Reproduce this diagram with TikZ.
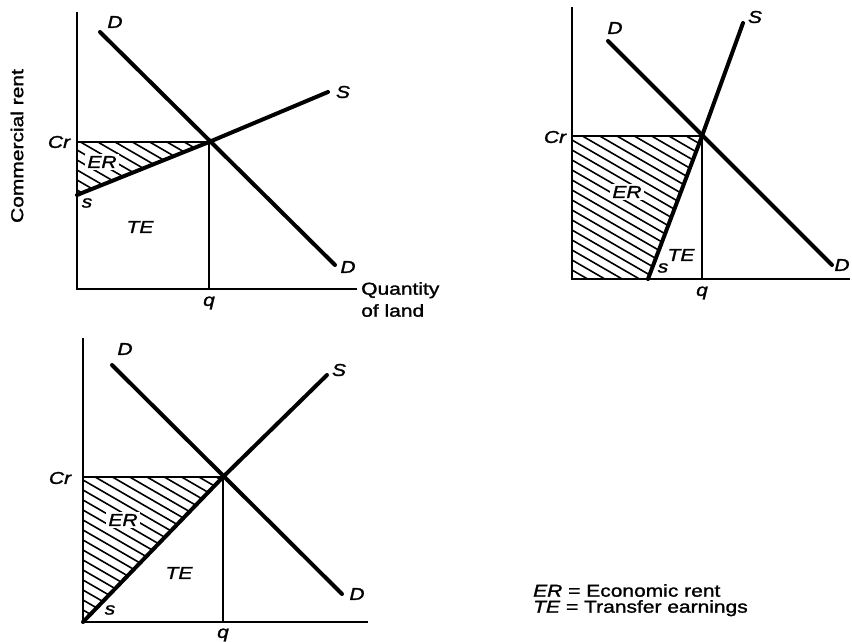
\documentclass[tikz,border=0pt]{standalone}
\usepackage{fontspec}
\setmainfont[FakeStretch=1.22, FakeBold=1.5]{Liberation Sans}
\usepackage{tikz}
\usetikzlibrary{positioning,calc}

\begin{document}
\begin{tikzpicture}[
  x=1pt, y=-1pt,
  font=\fontsize{17.2}{20}\selectfont,
  axis/.style  ={line width=2.4pt},
  curve/.style ={line width=4pt, line cap=round},
  guide/.style ={line width=1.5pt},
  hatch/.style ={line width=1.6pt},
  lbl/.style   ={font=\fontsize{17.2}{20}\selectfont\itshape, inner sep=1pt},
  erlbl/.style ={lbl, fill=white, inner sep=2pt},
  txt/.style   ={inner sep=0pt, align=left}
]
\useasboundingbox (0,0) rectangle (852,642);

% ---- PANEL 1: elastic supply ----
\coordinate (o1) at (77,289);   \coordinate (top1) at (77,12);   \coordinate (xend1) at (357,289);
\coordinate (cr1) at (77,142);  \coordinate (e1) at (209,142);   \coordinate (q1) at (209,289);
\coordinate (s1) at (77,195);   \coordinate (send1) at (328,92);
\coordinate (dtop1) at (100,32); \coordinate (dbot1) at (335,265);

\begin{scope}
  \clip (cr1) -- (e1) -- (s1) -- cycle;
  \foreach \k in {-300,-290,...,700} \draw[hatch] (77,\k) -- ++(500,289);
\end{scope}
\node[erlbl] (er1) at (102,162) {ER};

\draw[guide] (cr1) -- (e1) -- (q1);
\draw[axis] (top1) -- (o1) -- (xend1);
\draw[curve] (dtop1) -- (dbot1);
\draw[curve] (s1) -- (e1) -- (send1);

\node[lbl] (ld1a) at (115,22)  {D};
\node[lbl] (ld1b) at (348,267) {D};
\node[lbl] (ls1)  at (343,92)  {S};
\node[lbl] (lcr1) at (59,142)  {Cr};
\node[lbl] (lq1)  at (209,303) {q};
\node[lbl] (lss1) at (87,203)  {s};
\node[lbl] (lte1) at (140,227) {TE};
\node[txt, rotate=90] (ylab) at (17,146) {Commercial rent};
\node[txt, anchor=north west, font=\fontsize{17.2}{22}\selectfont] (xlab) at (361,282) {Quantity\\of land};

% ---- PANEL 2: inelastic supply ----
\coordinate (o2) at (572,279);  \coordinate (top2) at (572,7);   \coordinate (xend2) at (850,279);
\coordinate (cr2) at (572,136); \coordinate (e2) at (702,136);   \coordinate (q2) at (702,279);
\coordinate (s2) at (648,279);  \coordinate (send2) at (743,23);
\coordinate (dtop2) at (608,41); \coordinate (dbot2) at (832,265);

\begin{scope}
  \clip (cr2) -- (e2) -- (s2) -- (o2) -- cycle;
  \foreach \k in {-300,-290,...,700} \draw[hatch] (572,\k) -- ++(500,289);
\end{scope}
\node[erlbl] (er2) at (627,192) {ER};

\draw[guide] (cr2) -- (e2) -- (q2);
\draw[axis] (top2) -- (o2) -- (xend2);
\draw[curve] (dtop2) -- (dbot2);
\draw[curve] (s2) -- (e2) -- (send2);

\node[lbl] (ld2a) at (615,28)  {D};
\node[lbl] (ld2b) at (842,265) {D};
\node[lbl] (ls2)  at (755,17)  {S};
\node[lbl] (lcr2) at (555,137) {Cr};
\node[lbl] (lq2)  at (702,293) {q};
\node[lbl] (lss2) at (663,268) {s};
\node[lbl] (lte2) at (681,255) {TE};

% ---- PANEL 3: supply from origin ----
\coordinate (o3) at (83,622);   \coordinate (top3) at (83,338);  \coordinate (xend3) at (368,622);
\coordinate (cr3) at (83,477);  \coordinate (e3) at (223,477);   \coordinate (q3) at (223,622);
\coordinate (send3) at (327,375);
\coordinate (dtop3) at (112,365); \coordinate (dbot3) at (342,594);

\begin{scope}
  \clip (cr3) -- (e3) -- (o3) -- cycle;
  \foreach \k in {-300,-290,...,900} \draw[hatch] (83,\k) -- ++(500,289);
\end{scope}
\node[erlbl] (er3) at (123,520) {ER};

\draw[guide] (cr3) -- (e3) -- (q3);
\draw[axis] (top3) -- (o3) -- (xend3);
\draw[curve] (dtop3) -- (dbot3);
\draw[curve] (o3) -- (e3) -- (send3);

\node[lbl] (ld3a) at (125,349) {D};
\node[lbl] (ld3b) at (357,594) {D};
\node[lbl] (ls3)  at (339,370) {S};
\node[lbl] (lcr3) at (60,478)  {Cr};
\node[lbl] (lq3)  at (223,635) {q};
\node[lbl] (lss3) at (110,610) {s};
\node[lbl] (lte3) at (179,573) {TE};

% ---- legend ----
\node[txt, anchor=north west, font=\fontsize{17.2}{16}\selectfont] (legend) at (533,584)
  {\textit{ER} = Economic rent\\\textit{TE} = Transfer earnings};

\end{tikzpicture}
\end{document}
